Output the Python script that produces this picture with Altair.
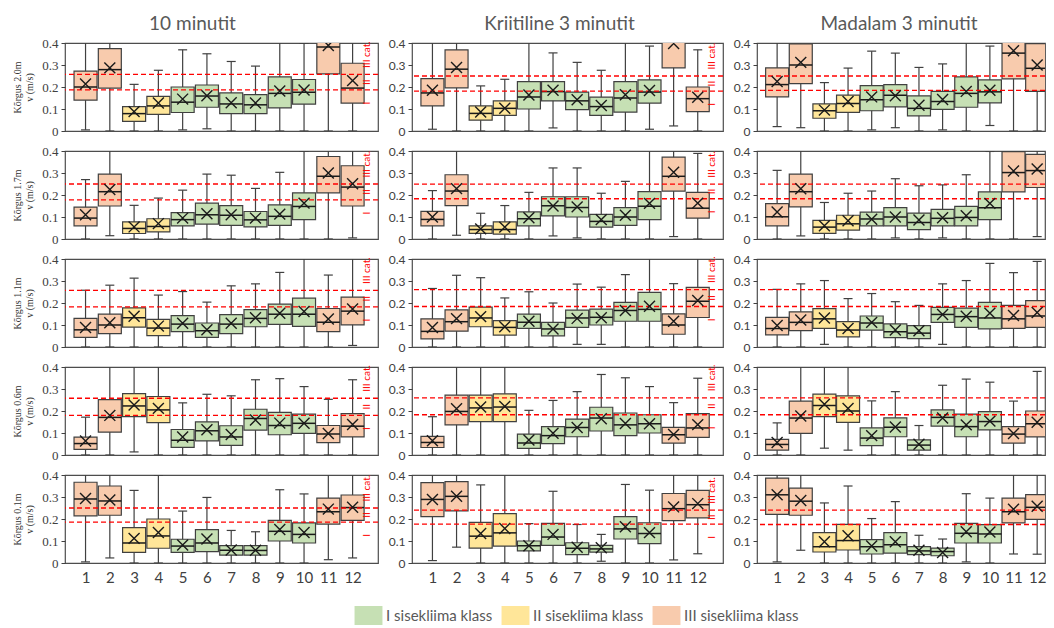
import altair as alt
import pandas as pd

COLUMN_TITLES = ["10 minutit", "Kriitiline 3 minutit", "Madalam 3 minutit"]
ROW_LABELS = ["Kõrgus 2.0m", "Kõrgus 1.7m", "Kõrgus 1.1m", "Kõrgus 0.6m", "Kõrgus 0.1m"]
Y_UNIT = "v (m/s)"
BOXES = list(range(1, 13))
BOX_CLASS = ["III", "III", "II", "II", "I", "I", "I", "I", "I", "I", "III", "III"]
CLASS_KEYS = ["I", "II", "III"]
CLASS_NAMES = ["I sisekliima klass", "II sisekliima klass", "III sisekliima klass"]
CLASS_COLORS = ["#C6E0B4", "#FFE699", "#F8CBAD"]
CAT_LABELS = ["III cat.", "II", "I"]
Y_TICKS = [0, 0.1, 0.2, 0.3, 0.4]

# per box: (min, q1, median, q3, max, mean); values above 0.4 run off the panel top
C1R1 = [(0.005, 0.14, 0.20, 0.272, 0.45, 0.214), (0.0, 0.195, 0.279, 0.374, 0.45, 0.287),
        (0.0, 0.044, 0.079, 0.111, 0.212, 0.088), (0.0, 0.076, 0.114, 0.157, 0.276, 0.127),
        (0.005, 0.084, 0.131, 0.200, 0.369, 0.145), (0.01, 0.108, 0.159, 0.209, 0.351, 0.160),
        (0.0, 0.079, 0.123, 0.173, 0.316, 0.128), (0.0, 0.079, 0.119, 0.165, 0.295, 0.127),
        (0.0, 0.105, 0.171, 0.246, 0.45, 0.182), (0.0, 0.122, 0.176, 0.234, 0.399, 0.186),
        (0.0, 0.26, 0.382, 0.45, 0.45, 0.389), (0.0, 0.127, 0.195, 0.308, 0.45, 0.229)]
C1R2 = [(0, 0.06, 0.095, 0.145, 0.27, 0.11), (0.015, 0.15, 0.215, 0.295, 0.45, 0.225),
        (0, 0.025, 0.048, 0.078, 0.153, 0.055), (0, 0.032, 0.057, 0.092, 0.186, 0.07),
        (0, 0.06, 0.088, 0.12, 0.222, 0.095), (0, 0.068, 0.11, 0.163, 0.295, 0.115),
        (0, 0.062, 0.108, 0.152, 0.29, 0.11), (0, 0.055, 0.087, 0.125, 0.23, 0.095),
        (0, 0.062, 0.103, 0.155, 0.303, 0.113), (0, 0.088, 0.148, 0.21, 0.399, 0.163),
        (0, 0.21, 0.285, 0.375, 0.45, 0.30), (0.005, 0.15, 0.236, 0.333, 0.45, 0.251)]
C1R3 = [(0, 0.044, 0.078, 0.13, 0.258, 0.089), (0, 0.061, 0.10, 0.149, 0.281, 0.11),
        (0, 0.09, 0.133, 0.178, 0.313, 0.14), (0, 0.052, 0.086, 0.126, 0.236, 0.095),
        (0, 0.07, 0.104, 0.143, 0.252, 0.108), (0, 0.044, 0.074, 0.109, 0.204, 0.078),
        (0, 0.061, 0.104, 0.147, 0.278, 0.108), (0, 0.092, 0.13, 0.17, 0.287, 0.133),
        (0, 0.103, 0.149, 0.195, 0.339, 0.153), (0, 0.094, 0.149, 0.222, 0.45, 0.161),
        (0, 0.07, 0.112, 0.175, 0.327, 0.127), (0.007, 0.101, 0.163, 0.227, 0.45, 0.173)]
C1R4 = [(0, 0.026, 0.052, 0.081, 0.172, 0.064), (0, 0.104, 0.171, 0.252, 0.45, 0.18),
        (0.014, 0.174, 0.223, 0.279, 0.45, 0.227), (0, 0.147, 0.205, 0.266, 0.45, 0.212),
        (0, 0.035, 0.067, 0.116, 0.237, 0.082), (0, 0.064, 0.11, 0.151, 0.276, 0.115),
        (0, 0.044, 0.082, 0.133, 0.269, 0.093), (0, 0.113, 0.166, 0.208, 0.342, 0.159),
        (0, 0.092, 0.134, 0.194, 0.347, 0.145), (0, 0.098, 0.144, 0.186, 0.311, 0.144),
        (0, 0.056, 0.096, 0.134, 0.253, 0.098), (0, 0.082, 0.131, 0.188, 0.342, 0.139)]
C1R5 = [(0.005, 0.214, 0.291, 0.367, 0.45, 0.293), (0.023, 0.217, 0.282, 0.35, 0.45, 0.286),
        (0, 0.048, 0.091, 0.161, 0.33, 0.112), (0, 0.067, 0.123, 0.2, 0.399, 0.139),
        (0, 0.048, 0.077, 0.108, 0.236, 0.082), (0, 0.052, 0.091, 0.152, 0.298, 0.109),
        (0, 0.036, 0.058, 0.079, 0.148, 0.059), (0, 0.036, 0.057, 0.079, 0.142, 0.058),
        (0, 0.1, 0.144, 0.194, 0.333, 0.152), (0, 0.091, 0.13, 0.182, 0.314, 0.139),
        (0.015, 0.177, 0.233, 0.295, 0.45, 0.245), (0.023, 0.194, 0.252, 0.309, 0.45, 0.253)]

C2R1 = [(0.008, 0.114, 0.173, 0.238, 0.45, 0.185), (0, 0.196, 0.281, 0.369, 0.45, 0.289),
        (0, 0.049, 0.08, 0.114, 0.205, 0.086), (0, 0.071, 0.103, 0.137, 0.235, 0.103),
        (0, 0.1, 0.154, 0.224, 0.45, 0.164), (0.014, 0.137, 0.179, 0.224, 0.355, 0.185),
        (0, 0.097, 0.137, 0.177, 0.312, 0.142), (0, 0.071, 0.111, 0.154, 0.276, 0.116),
        (0, 0.086, 0.15, 0.224, 0.45, 0.165), (0.008, 0.127, 0.177, 0.232, 0.386, 0.184),
        (0.023, 0.287, 0.42, 0.45, 0.45, 0.398), (0, 0.088, 0.147, 0.2, 0.369, 0.153)]
C2R2 = [(0, 0.06, 0.089, 0.126, 0.22, 0.1), (0.017, 0.152, 0.218, 0.292, 0.45, 0.229),
        (0, 0.026, 0.043, 0.06, 0.117, 0.046), (0, 0.022, 0.043, 0.078, 0.152, 0.054),
        (0, 0.06, 0.092, 0.123, 0.212, 0.097), (0.014, 0.105, 0.151, 0.192, 0.323, 0.15),
        (0.005, 0.1, 0.143, 0.192, 0.323, 0.146), (0, 0.054, 0.08, 0.112, 0.208, 0.088),
        (0, 0.062, 0.1, 0.143, 0.262, 0.108), (0, 0.088, 0.149, 0.215, 0.45, 0.162),
        (0.011, 0.218, 0.285, 0.372, 0.45, 0.303), (0, 0.095, 0.14, 0.212, 0.389, 0.163)]
C2R3 = [(0, 0.037, 0.071, 0.128, 0.266, 0.089), (0, 0.072, 0.115, 0.169, 0.326, 0.129),
        (0, 0.092, 0.132, 0.181, 0.315, 0.138), (0, 0.054, 0.089, 0.12, 0.223, 0.092),
        (0, 0.085, 0.112, 0.149, 0.251, 0.117), (0, 0.051, 0.082, 0.112, 0.2, 0.082),
        (0.012, 0.089, 0.132, 0.168, 0.286, 0.13), (0.012, 0.1, 0.135, 0.172, 0.272, 0.133),
        (0, 0.117, 0.166, 0.203, 0.329, 0.166), (0, 0.117, 0.171, 0.248, 0.45, 0.185),
        (0, 0.058, 0.1, 0.151, 0.288, 0.117), (0, 0.134, 0.208, 0.271, 0.45, 0.211)]
C2R4 = [(0, 0.034, 0.057, 0.085, 0.174, 0.065), (0, 0.137, 0.198, 0.272, 0.45, 0.21),
        (0, 0.152, 0.214, 0.272, 0.45, 0.218), (0, 0.152, 0.218, 0.278, 0.45, 0.221),
        (0, 0.03, 0.054, 0.095, 0.203, 0.068), (0, 0.052, 0.088, 0.129, 0.248, 0.099),
        (0, 0.083, 0.125, 0.163, 0.288, 0.125), (0, 0.109, 0.168, 0.217, 0.366, 0.165),
        (0, 0.088, 0.137, 0.191, 0.351, 0.143), (0, 0.1, 0.142, 0.183, 0.311, 0.142),
        (0, 0.054, 0.092, 0.126, 0.238, 0.093), (0, 0.08, 0.123, 0.188, 0.349, 0.138)]
C2R5 = [(0.011, 0.211, 0.289, 0.365, 0.45, 0.289), (0.072, 0.237, 0.303, 0.37, 0.45, 0.303),
        (0, 0.068, 0.122, 0.185, 0.355, 0.134), (0, 0.077, 0.137, 0.224, 0.45, 0.157),
        (0, 0.055, 0.078, 0.1, 0.179, 0.078), (0, 0.08, 0.118, 0.18, 0.326, 0.13),
        (0, 0.038, 0.067, 0.092, 0.175, 0.072), (0.008, 0.049, 0.064, 0.08, 0.13, 0.069),
        (0, 0.109, 0.155, 0.211, 0.357, 0.165), (0, 0.088, 0.134, 0.183, 0.331, 0.138),
        (0.014, 0.193, 0.247, 0.316, 0.45, 0.255), (0.042, 0.205, 0.265, 0.33, 0.45, 0.27)]

C3R1 = [(0.02, 0.155, 0.211, 0.287, 0.45, 0.225), (0.015, 0.215, 0.3, 0.396, 0.45, 0.312),
        (0, 0.058, 0.092, 0.123, 0.22, 0.095), (0, 0.085, 0.125, 0.163, 0.286, 0.134),
        (0.005, 0.092, 0.142, 0.206, 0.363, 0.155), (0.015, 0.11, 0.162, 0.211, 0.354, 0.16),
        (0, 0.069, 0.103, 0.16, 0.289, 0.117), (0.005, 0.098, 0.134, 0.18, 0.305, 0.143),
        (0, 0.108, 0.171, 0.246, 0.45, 0.18), (0.025, 0.128, 0.178, 0.232, 0.386, 0.185),
        (0, 0.237, 0.354, 0.45, 0.45, 0.365), (0, 0.18, 0.285, 0.397, 0.45, 0.3)]
C3R2 = [(0, 0.06, 0.101, 0.161, 0.312, 0.123), (0.014, 0.146, 0.215, 0.295, 0.45, 0.228),
        (0, 0.026, 0.054, 0.085, 0.166, 0.06), (0, 0.04, 0.069, 0.108, 0.208, 0.083),
        (0, 0.06, 0.091, 0.122, 0.218, 0.09), (0.005, 0.06, 0.1, 0.143, 0.274, 0.1),
        (0, 0.043, 0.075, 0.118, 0.242, 0.086), (0.005, 0.06, 0.094, 0.135, 0.246, 0.097),
        (0, 0.06, 0.098, 0.148, 0.292, 0.106), (0, 0.088, 0.142, 0.214, 0.398, 0.162),
        (0, 0.214, 0.302, 0.397, 0.45, 0.309), (0.011, 0.234, 0.311, 0.385, 0.45, 0.318)]
C3R3 = [(0, 0.055, 0.084, 0.135, 0.262, 0.098), (0, 0.074, 0.112, 0.16, 0.287, 0.123),
        (0.012, 0.085, 0.128, 0.174, 0.302, 0.132), (0, 0.046, 0.077, 0.115, 0.22, 0.084),
        (0, 0.077, 0.109, 0.141, 0.243, 0.112), (0, 0.043, 0.069, 0.105, 0.206, 0.077),
        (0, 0.038, 0.063, 0.097, 0.189, 0.074), (0.012, 0.112, 0.148, 0.18, 0.287, 0.148),
        (0, 0.089, 0.138, 0.177, 0.302, 0.14), (0, 0.082, 0.132, 0.203, 0.38, 0.154),
        (0, 0.085, 0.128, 0.189, 0.338, 0.143), (0, 0.089, 0.141, 0.211, 0.389, 0.157)]
C3R4 = [(0, 0.022, 0.048, 0.071, 0.146, 0.057), (0, 0.098, 0.168, 0.245, 0.45, 0.177),
        (0.031, 0.174, 0.225, 0.277, 0.45, 0.231), (0.022, 0.148, 0.2, 0.269, 0.45, 0.211),
        (0, 0.043, 0.077, 0.123, 0.246, 0.088), (0, 0.083, 0.126, 0.169, 0.288, 0.127),
        (0, 0.022, 0.045, 0.069, 0.134, 0.049), (0, 0.131, 0.171, 0.205, 0.317, 0.168),
        (0, 0.083, 0.129, 0.186, 0.345, 0.137), (0, 0.114, 0.152, 0.197, 0.331, 0.154),
        (0, 0.054, 0.095, 0.129, 0.245, 0.098), (0, 0.082, 0.142, 0.2, 0.38, 0.149)]
C3R5 = [(0.005, 0.221, 0.31, 0.386, 0.45, 0.31), (0.058, 0.217, 0.281, 0.34, 0.45, 0.284),
        (0, 0.05, 0.074, 0.138, 0.273, 0.097), (0, 0.059, 0.102, 0.176, 0.35, 0.124),
        (0, 0.041, 0.074, 0.106, 0.202, 0.077), (0, 0.045, 0.083, 0.138, 0.279, 0.097),
        (0, 0.038, 0.055, 0.074, 0.126, 0.058), (0, 0.033, 0.052, 0.068, 0.109, 0.048),
        (0.005, 0.091, 0.135, 0.18, 0.315, 0.142), (0, 0.091, 0.132, 0.174, 0.295, 0.141),
        (0.041, 0.182, 0.233, 0.295, 0.45, 0.244), (0.04, 0.198, 0.253, 0.311, 0.45, 0.258)]

PANELS = [[C1R1, C1R2, C1R3, C1R4, C1R5],
          [C2R1, C2R2, C2R3, C2R4, C2R5],
          [C3R1, C3R2, C3R3, C3R4, C3R5]]

# category limits (upper, lower) per column, per row
TH_C1 = [(0.257, 0.187), (0.25, 0.178), (0.257, 0.182), (0.258, 0.18), (0.25, 0.186)]
TH_C2 = [(0.25, 0.181), (0.249, 0.183), (0.261, 0.184), (0.26, 0.183), (0.24, 0.177)]
TH_C3 = [(0.25, 0.185), (0.249, 0.183), (0.261, 0.184), (0.26, 0.183), (0.24, 0.175)]
THRESH = [TH_C1, TH_C2, TH_C3]

# layout
COL_W = [313, 311, 288]
X_MAX = [12.84, 12.84, 12.12]
X_MIN = 0.36
TITLE_DX = [-29, -8, -2]
PANEL_H = 88
BOX_W = 23
DARK = "#404040"
X_SHAPE = "M-1,-1L1,1M-1,1L1,-1"
LEG_SHAPE = "M-1.47,-1H1.47V1H-1.47Z"

LEGEND = alt.Legend(orient="none", legendX=294, legendY=563, direction="horizontal",
                    title=None, symbolType=LEG_SHAPE, symbolSize=361,
                    symbolStrokeWidth=0, symbolOpacity=1, labelFont="Lato",
                    labelFontSize=15, labelColor="#595959", labelOffset=8,
                    columnPadding=8)


def panel(ci, ri):
    stats = PANELS[ci][ri]
    df = pd.DataFrame(stats, columns=["lo", "q1", "med", "q3", "hi", "mean"])
    df["box"] = BOXES
    df["klass"] = [CLASS_NAMES[CLASS_KEYS.index(c)] for c in BOX_CLASS]
    up, low = THRESH[ci][ri]
    th = pd.DataFrame({"v": [up, low]})
    labs = pd.DataFrame({"t": CAT_LABELS, "v": [up + 0.09, (up + low) / 2, low - 0.06]})

    xscale = alt.Scale(domain=[X_MIN, X_MAX[ci]], nice=False, zero=False)
    yscale = alt.Scale(domain=[0, 0.4], nice=False, zero=True)
    bottom = ri == 4
    xaxis = alt.Axis(values=BOXES, format="d", labelFont="Lato", labelFontSize=15,
                     labelColor=DARK, ticks=False, domain=False, grid=False,
                     title=None, labelPadding=7, labelOverlap=False) if bottom else None
    serif = ci == 0
    yaxis = alt.Axis(values=Y_TICKS, format="~g", grid=False, domain=False, tickSize=4,
                     tickColor=DARK, tickWidth=1, labelOverlap=False,
                     labelFont="Liberation Serif" if serif else "Lato",
                     labelFontSize=13 if serif else 12, labelColor=DARK, labelPadding=3,
                     title=[ROW_LABELS[ri], Y_UNIT] if ci == 0 else None,
                     titleFont="Liberation Serif", titleFontSize=10,
                     titleFontWeight="normal", titleColor="#333333", titlePadding=7,
                     titleLineHeight=12)

    def X():
        return alt.X("box:Q", scale=xscale, axis=xaxis)

    def Y(f):
        return alt.Y(f, type="quantitative", scale=yscale, axis=yaxis)

    base = alt.Chart(df)
    whisk = base.mark_rule(color=DARK, strokeWidth=1.2, clip=True).encode(
        x=X(), y=Y("lo"), y2="hi:Q")
    cap_hi = base.mark_tick(orient="horizontal", size=9, thickness=1.2, color=DARK,
                            clip=True, opacity=1).encode(x=X(), y=Y("hi"))
    cap_lo = base.mark_tick(orient="horizontal", size=9, thickness=1.2, color=DARK,
                            clip=True, opacity=1).encode(x=X(), y=Y("lo"))
    boxes = base.mark_bar(size=BOX_W, stroke=DARK, strokeWidth=1.2, clip=True, opacity=1).encode(
        x=X(), y=Y("q1"), y2="q3:Q",
        color=alt.Color("klass:N", scale=alt.Scale(domain=CLASS_NAMES, range=CLASS_COLORS),
                        legend=LEGEND))
    med = base.mark_tick(orient="horizontal", size=BOX_W, thickness=1.5, color="#1a1a1a",
                         clip=True, opacity=1).encode(x=X(), y=Y("med"))
    dash = alt.Chart(th).mark_rule(color="#FF0000", strokeDash=[5, 3], strokeWidth=1.3,
                                   clip=True).encode(y=Y("v"))
    mean = base.mark_point(shape=X_SHAPE, size=120, filled=False, stroke="#1a1a1a",
                           strokeWidth=1.4, opacity=1, clip=True).encode(x=X(), y=Y("mean"))
    layers = [whisk, cap_hi, cap_lo, boxes, med, dash, mean]
    if ci < 2:
        cat = alt.Chart(labs).mark_text(angle=270, color="#FF0000", fontSize=10, font="Lato",
                                        align="center", baseline="middle").encode(
            x=alt.X(datum=12.6, scale=xscale, axis=xaxis), y=Y("v"), text="t:N")
        layers.append(cat)
    props = dict(width=COL_W[ci], height=PANEL_H)
    if ri == 0:
        props["title"] = alt.TitleParams(COLUMN_TITLES[ci], font="Lato", fontSize=19,
                                         fontWeight="normal", color="#595959", offset=3,
                                         anchor="middle", frame="group", dx=TITLE_DX[ci])
    return alt.layer(*layers).properties(**props)


panels = [panel(ci, ri) for ri in range(5) for ci in range(3)]

chart = alt.concat(*panels, columns=3, spacing={"row": 20, "column": 34},
                   bounds="flush").properties(
    padding={"left": 12, "top": 14, "right": 2, "bottom": 0}
).configure_view(stroke="#4d4d4d", strokeWidth=1.2)

chart.save("out.html", embed_options={"renderer": "svg", "actions": False})
